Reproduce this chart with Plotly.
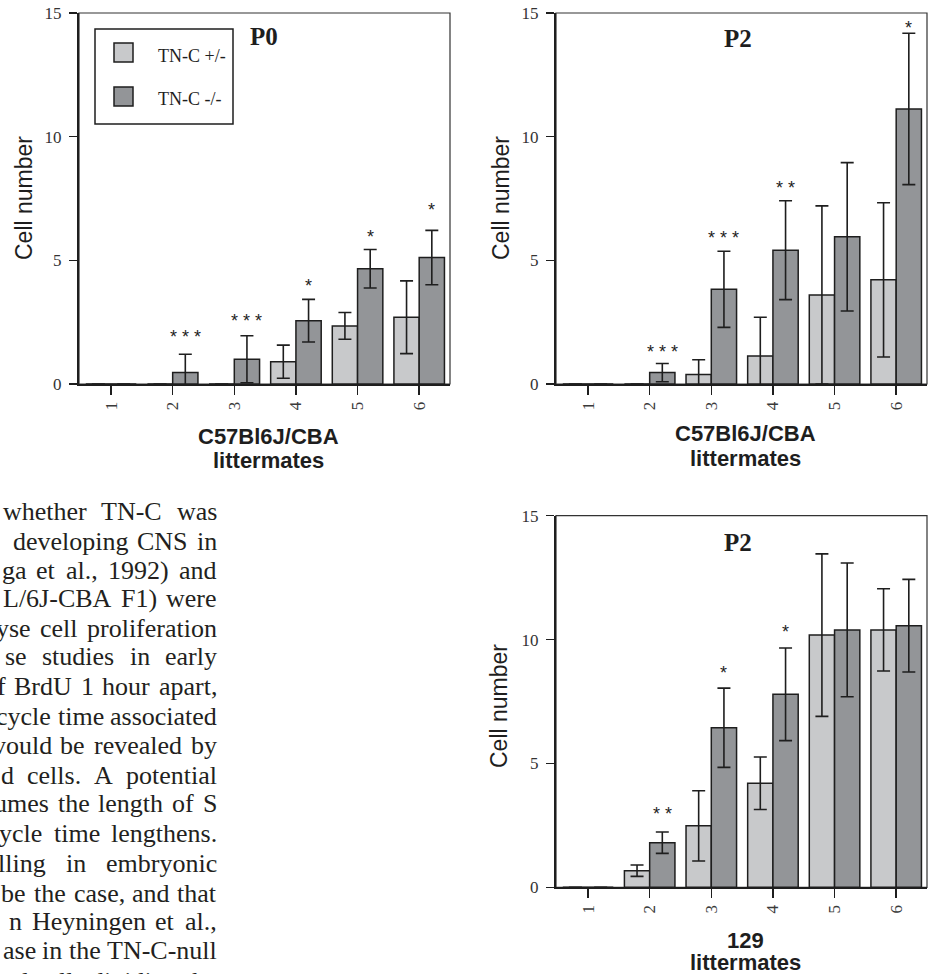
import plotly.graph_objects as go

W, H = 930, 974

# ---------------- data ----------------
categories = [1, 2, 3, 4, 5, 6]
tick_labels = ["1", "2", "3", "4", "5", "6"]
series_names = ["TN-C +/-", "TN-C -/-"]

# P0, C57Bl6J/CBA littermates
p0_het = [0, 0, 0, 0.90, 2.35, 2.70]
p0_het_err = [0, 0, 0, 0.67, 0.54, 1.47]
p0_ko = [0, 0.46, 1.00, 2.56, 4.66, 5.11]
p0_ko_err = [0, 0.74, 0.95, 0.86, 0.78, 1.10]
p0_stars = ["", "* * *", "* * *", "*", "*", "*"]
p0_star_y = [0, 2.06, 2.72, 4.14, 6.09, 7.20]

# P2, C57Bl6J/CBA littermates
p2c_het = [0, 0, 0.38, 1.13, 3.60, 4.21]
p2c_het_err = [0, 0, 0.60, 1.57, 3.60, 3.12]
p2c_ko = [0, 0.46, 3.83, 5.41, 5.95, 11.12]
p2c_ko_err = [0, 0.37, 1.54, 2.00, 3.00, 3.06]
p2c_stars = ["", "* * *", "* * *", "* *", "", "*"]
p2c_star_y = [0, 1.47, 6.06, 8.08, 0, 14.57]

# P2, 129 littermates
p2s_het = [0, 0.67, 2.48, 4.20, 10.18, 10.39]
p2s_het_err = [0, 0.23, 1.42, 1.06, 3.28, 1.66]
p2s_ko = [0, 1.80, 6.44, 7.79, 10.39, 10.56]
p2s_ko_err = [0, 0.43, 1.60, 1.87, 2.70, 1.87]
p2s_stars = ["", "* *", "*", "*", "", ""]
p2s_star_y = [0, 3.12, 8.81, 10.48, 0, 0]

y_ticks = [0, 5, 10, 15]

# body text fragments visible at the left edge (one line each)
paragraph = [
    "whether TN-C was",
    "developing CNS in",
    "ga et al., 1992) and",
    "L/6J-CBA F1) were",
    "yse cell proliferation",
    "se studies in early",
    "f BrdU 1 hour apart,",
    "cycle time associated",
    "vould be revealed by",
    "d cells. A potential",
    "umes the length of S",
    "ycle time lengthens.",
    "lling in embryonic",
    "be the case, and that",
    "n Heyningen et al.,",
    "ase in the TN-C-null",
    "and cells dividing the",
]
# layout of the justified text: right edge of first word (px) and line centre (px)
paragraph_first_right = [88, 130, 28, 113, 32, 28, 7, 63, 53, 15, 50, 43, 47, 27, 23, 40, 30]
paragraph_y = [511.7, 541.7, 570, 598.3, 628.3, 656.7, 686.7, 716.7, 745,
               775, 803.3, 833.3, 863.3, 893.3, 921.7, 950, 982]

# ---------------- style ----------------
LIGHT = "#c8c9cb"
DARK = "#939598"
INK = "#1e1e1e"
SERIF = "Liberation Serif, Times New Roman, serif"
SANS = "Liberation Sans, Arial, sans-serif"
BAR_W = 0.41
TEXT_SIZE = 26
TEXT_RIGHT = 218

# Times metrics (1/1000 em) used to justify the body text
_TW = dict(zip("abcdefghijklmnopqrstuvwxyz",
               [444, 500, 444, 500, 444, 333, 500, 500, 278, 278, 500, 278, 778,
                500, 500, 500, 500, 333, 389, 278, 500, 500, 722, 500, 500, 444]))
_TW.update(dict(zip("ABCDEFGHIJKLMNOPQRSTUVWXYZ",
                    [722, 667, 667, 722, 611, 556, 722, 722, 333, 389, 722, 611, 889,
                     722, 722, 556, 722, 667, 556, 611, 722, 722, 944, 722, 722, 611])))
_TW.update({d: 500 for d in "0123456789"})
_TW.update({" ": 250, ".": 250, ",": 250, "-": 333, "/": 278, "(": 333, ")": 333})


def text_w(s):
    return sum(_TW.get(ch, 500) for ch in s) / 1000.0 * TEXT_SIZE


def px(x):
    return x / W


def py(y):
    return 1 - y / H


panels = [
    dict(xa="x", ya="y", xr=(79, 450), yr=(13, 384),
         het=p0_het, het_err=p0_het_err, ko=p0_ko, ko_err=p0_ko_err,
         stars=p0_stars, star_y=p0_star_y,
         title="P0", title_pos=(264, 37), xt1="C57Bl6J/CBA",
         xt_pos=(268, 436, 460), yt_pos=(23.5, 198.5)),
    dict(xa="x2", ya="y2", xr=(556, 927), yr=(13, 384),
         het=p2c_het, het_err=p2c_het_err, ko=p2c_ko, ko_err=p2c_ko_err,
         stars=p2c_stars, star_y=p2c_star_y,
         title="P2", title_pos=(737.5, 39), xt1="C57Bl6J/CBA",
         xt_pos=(745, 433, 458), yt_pos=(500.5, 198.5)),
    dict(xa="x3", ya="y3", xr=(556, 927), yr=(515.7, 887.3),
         het=p2s_het, het_err=p2s_het_err, ko=p2s_ko, ko_err=p2s_ko_err,
         stars=p2s_stars, star_y=p2s_star_y,
         title="P2", title_pos=(737.7, 542), xt1="129",
         xt_pos=(745, 940, 962), yt_pos=(499, 706)),
]

fig = go.Figure()
annotations = []
shapes = []
layout_axes = {}

for p in panels:
    xa, ya = p["xa"], p["ya"]
    for vals, errs, color, off, name in [
        (p["het"], p["het_err"], LIGHT, -BAR_W, series_names[0]),
        (p["ko"], p["ko_err"], DARK, 0.0, series_names[1]),
    ]:
        fig.add_trace(go.Bar(
            x=categories, y=vals, name=name,
            xaxis=xa, yaxis=ya,
            width=BAR_W, offset=off,
            marker=dict(color=color, line=dict(color=INK, width=1.5)),
            error_y=dict(type="data", array=[e if e > 0 else None for e in errs],
                         visible=True, thickness=1.6, width=6.5, color=INK),
            showlegend=False, hoverinfo="skip",
        ))
    xkey = "xaxis" if xa == "x" else "xaxis" + xa[1:]
    ykey = "yaxis" if ya == "y" else "yaxis" + ya[1:]
    layout_axes[xkey] = dict(
        domain=[px(p["xr"][0]), px(p["xr"][1])], anchor=ya,
        range=[0.48, 6.5], tickmode="array", tickvals=categories, ticktext=tick_labels,
        tickangle=-90, ticks="outside", ticklen=9, tickwidth=1.5, tickcolor=INK,
        showline=True, linewidth=2, linecolor=INK, showgrid=False, zeroline=False,
        tickfont=dict(family=SERIF, size=17, color="#3a3a3a"),
        automargin=False, fixedrange=True,
    )
    layout_axes[ykey] = dict(
        domain=[py(p["yr"][1]), py(p["yr"][0])], anchor=xa,
        range=[0, 15], tickmode="array", tickvals=y_ticks,
        ticks="outside", ticklen=8, tickwidth=1.5, tickcolor=INK,
        showline=True, linewidth=2, linecolor=INK, showgrid=False, zeroline=False,
        tickfont=dict(family=SERIF, size=17, color="#333333"),
        ticklabelstandoff=4, automargin=False, fixedrange=True,
    )
    # frame (thin top/right border)
    shapes.append(dict(type="rect", xref=f"{xa} domain", yref=f"{ya} domain",
                       x0=0, x1=1, y0=0, y1=1, line=dict(color="#333333", width=1.2),
                       layer="below"))
    # significance stars
    for c, s, sy in zip(categories, p["stars"], p["star_y"]):
        if s:
            annotations.append(dict(x=c + BAR_W / 2, y=sy, xref=xa, yref=ya, text=s,
                                    showarrow=False, yanchor="middle", yshift=-4,
                                    font=dict(family=SANS, size=18, color=INK)))
    # panel title
    tx, ty = p["title_pos"]
    annotations.append(dict(x=px(tx), y=py(ty), xref="paper", yref="paper",
                            text="<b>%s</b>" % p["title"], showarrow=False,
                            xanchor="center", yanchor="middle",
                            font=dict(family=SERIF, size=25, color=INK)))
    # x title (two lines)
    cx, y1, y2 = p["xt_pos"]
    for t, yy in [(p["xt1"], y1), ("littermates", y2)]:
        annotations.append(dict(x=px(cx), y=py(yy), xref="paper", yref="paper",
                                text="<b>%s</b>" % t, showarrow=False,
                                xanchor="center", yanchor="middle", borderpad=0,
                                font=dict(family=SANS, size=22, color=INK)))
    # y title
    yx, yy = p["yt_pos"]
    annotations.append(dict(x=px(yx), y=py(yy), xref="paper", yref="paper",
                            text="Cell number", textangle=-90, showarrow=False,
                            xanchor="center", yanchor="middle",
                            font=dict(family=SANS, size=23, color=INK)))

# legend (inside the P0 panel)
shapes.append(dict(type="rect", xref="paper", yref="paper",
                   x0=px(95), x1=px(233), y0=py(124), y1=py(29),
                   line=dict(color=INK, width=1.5), fillcolor="white"))
for (y0, y1), col, name, ty in [((43, 62), LIGHT, series_names[0], 56),
                                ((87, 106), DARK, series_names[1], 99)]:
    shapes.append(dict(type="rect", xref="paper", yref="paper",
                       x0=px(114), x1=px(133), y0=py(y1), y1=py(y0),
                       line=dict(color=INK, width=1.5), fillcolor=col))
    annotations.append(dict(x=px(156), y=py(ty), xref="paper", yref="paper",
                            text=name, showarrow=False, xanchor="left", yanchor="middle",
                            font=dict(family=SERIF, size=18, color=INK)))

# justified body text on the left (cut by the page edge)
space = text_w(" ")
for line, r0, yy in zip(paragraph, paragraph_first_right, paragraph_y):
    words = line.split(" ")
    rest = words[1:]
    widths = [text_w(w) for w in rest]
    gap = (TEXT_RIGHT - r0 - sum(widths)) / max(len(rest), 1)
    if gap < space:  # cannot stretch: natural spacing, right aligned
        gap = space
        r0 = TEXT_RIGHT - sum(widths) - gap * len(rest)
    rights = [r0]
    for w in widths:
        rights.append(rights[-1] + gap + w)
    for wtxt, r in zip(words, rights):
        annotations.append(dict(x=px(r), y=py(yy), xref="paper", yref="paper",
                                text=wtxt, showarrow=False, xanchor="right",
                                yanchor="middle", borderpad=0,
                                font=dict(family=SERIF, size=TEXT_SIZE, color="#231f20")))

fig.update_layout(
    width=W, height=H,
    margin=dict(l=0, r=0, t=0, b=0, pad=0, autoexpand=False),
    paper_bgcolor="white", plot_bgcolor="white",
    barmode="overlay", showlegend=False, hovermode=False,
    annotations=annotations, shapes=shapes,
    **layout_axes,
)

fig.write_html(
    "out.html",
    config={"displayModeBar": False, "staticPlot": True},
    post_script="document.body.style.margin='0px';document.body.style.overflow='hidden';",
)
